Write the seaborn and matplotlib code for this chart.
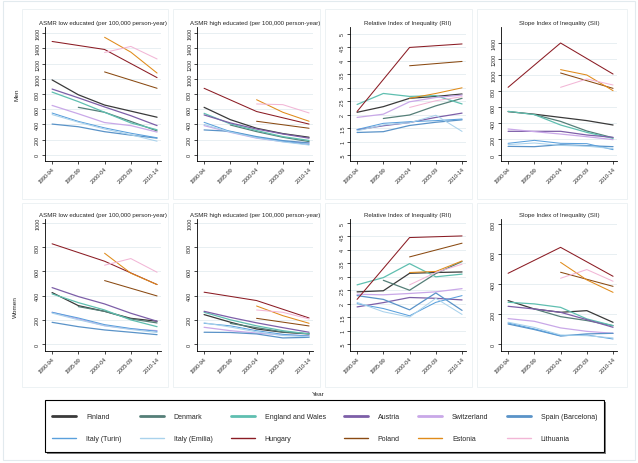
import numpy as np
import pandas as pd
import matplotlib.pyplot as plt
import seaborn as sns
from matplotlib.lines import Line2D
from matplotlib.patches import Rectangle

n = np.nan
periods = ['1990-94', '1995-99', '2000-04', '2005-09', '2010-14']
countries = ['Finland', 'Denmark', 'England and Wales', 'Austria', 'Switzerland',
             'Spain (Barcelona)', 'Italy (Turin)', 'Italy (Emilia)', 'Hungary',
             'Poland', 'Estonia', 'Lithuania']
colors = ['#3a3a3a', '#557f78', '#5fbfb0', '#7d5fa8', '#c9a8e8', '#5a93c8',
          '#5aa0dc', '#a9d2ec', '#8b1c24', '#8a4a12', '#e08b1a', '#f2b6d6']

# values per country, in the order of `countries`
men_low = [[985, 790, 655, 575, 495], [n, 625, 560, 440, 315], [825, 700, 560, 420, 330],
           [865, 750, 630, 515, 385], [650, 540, 425, 385, 300], [405, 370, 305, 260, 220],
           [550, 440, 355, 285, 225], [530, 430, 340, 265, 180], [1490, n, 1385, n, 1015],
           [n, n, 1090, n, 875], [n, n, 1545, 1350, 1075], [n, n, 1345, 1425, 1260]]
men_high = [[625, 463, 350, 280, 232], [n, 393, 306, 232, 175], [546, 407, 320, 240, 190],
            [525, 420, 340, 275, 220], [385, 297, 220, 175, 157], [328, 310, 240, 188, 157],
            [428, 306, 232, 180, 135], [400, 300, 225, 170, 130], [875, n, 570, n, 405],
            [n, n, 442, n, 350], [n, n, 725, 560, 442], [n, n, 669, 660, 551]]
men_rii = [[2.09, 2.30, 2.61, 2.68, 2.77], [n, 1.86, 1.99, 2.33, 2.61], [2.38, 2.79, 2.68, 2.71, 2.40],
           [1.44, 1.59, 1.71, 1.90, 2.06], [1.90, 2.02, 2.48, 2.64, 2.73], [1.34, 1.37, 1.60, 1.72, 1.81],
           [1.45, 1.68, 1.74, 1.78, 1.84], [1.40, 1.62, 1.70, 1.98, 1.38], [2.12, n, 4.50, n, 4.63],
           [n, n, 3.82, n, 3.98], [n, n, 2.61, 2.79, 3.00], [n, n, 2.27, 2.52, 2.67]]
men_sii = [[542, 510, 470, 430, 375], [n, 505, 420, 300, 215], [546, 505, 375, 283, 208],
           [296, 296, 296, 250, 221], [325, 292, 262, 229, 192], [108, 104, 129, 117, 104],
           [146, 183, 146, 142, 67], [130, 150, 120, 110, 80], [846, n, 1400, n, 1012],
           [n, n, 1025, n, 833], [n, n, 1067, 1000, 804], [n, n, 846, 950, 875]]
women_low = [[425, 317, 270, 212, 188], [n, 309, 270, 207, 174], [414, 342, 281, 199, 143],
             [466, 392, 331, 254, 188], [262, 207, 152, 124, 110], [179, 143, 116, 97, 77],
             [262, 215, 160, 128, 105], [255, 200, 150, 120, 95], [828, n, 684, n, 491],
             [n, n, 524, n, 397], [n, n, 750, 585, 491], [n, n, 651, 706, 593]]
women_high = [[243, 180, 124, 97, 83], [n, 170, 135, 100, 85], [262, 200, 150, 110, 83],
              [270, 220, 175, 135, 97], [138, 110, 90, 75, 69], [97, 95, 83, 50, 55],
              [171, 150, 110, 80, 65], [175, 140, 100, 70, 60], [428, n, 359, n, 215],
              [n, n, 212, n, 149], [n, n, 314, 234, 171], [n, n, 281, 262, 207]]
women_rii = [[2.44, 2.48, 3.13, 3.16, 3.18], [n, 2.87, 2.50, 3.12, 3.57], [2.70, 2.97, 3.49, 3.00, 3.10],
             [1.88, 2.04, 2.23, 2.20, 2.14], [2.35, 2.33, 2.38, 2.44, 2.56], [2.30, 2.16, 1.77, 2.40, 1.75],
             [2.00, 1.82, 1.55, 2.05, 2.30], [2.05, 1.70, 1.50, 2.20, 1.60], [2.16, n, 4.46, n, 4.52],
             [n, n, 3.74, n, 4.25], [n, n, 3.16, 3.20, 3.59], [n, n, 2.70, 3.16, 3.47]]
women_sii = [[289, 233, 211, 222, 144], [n, 233, 182, 156, 122], [278, 267, 244, 167, 122],
             [251, 233, 211, 162, 111], [169, 151, 107, 84, 71], [133, 96, 53, 67, 71],
             [140, 100, 55, 60, 33], [145, 110, 60, 55, 40], [471, n, 644, n, 451],
             [n, n, 478, n, 384], [n, n, 544, 427, 344], [n, n, 438, 496, 418]]

titles = ['ASMR low educated (per 100,000 person-year)', 'ASMR high educated (per 100,000 person-year)',
          'Relative Index of Inequality (RII)', 'Slope Index of Inequality (SII)']
rii_ticks = [0.5, 1, 1.5, 2, 2.5, 3, 3.5, 4, 4.5, 5]
rii_labels = ['.5', '1', '1.5', '2', '2.5', '3', '3.5', '4', '4.5', '5']

sns.set_theme(style='white')
plt.rcParams['font.family'] = ['Liberation Sans', 'DejaVu Sans']

W, H = 638, 464
fig = plt.figure(figsize=(6.38, 4.64), dpi=100)
fig.patch.set_facecolor('white')

def px_rect(x0, y0, x1, y1, **kw):
    fig.patches.append(Rectangle((x0 / W, 1 - y1 / H), (x1 - x0) / W, (y1 - y0) / H,
                                 transform=fig.transFigure, **kw))

# outer and panel frames
px_rect(3, 2, 635, 461, fill=False, edgecolor='#e2eaee', lw=0.8)
for (a, b) in [(22, 168), (173, 320), (325, 472), (477, 627)]:
    px_rect(a, 10, b, 200, fill=False, edgecolor='#eaf0f3', lw=0.6)
    px_rect(a, 204, b, 388, fill=False, edgecolor='#eaf0f3', lw=0.6)

def to_long(values):
    rows = []
    for c, vals in zip(countries, values):
        for i, v in enumerate(vals):
            rows.append((c, i, v))
    return pd.DataFrame(rows, columns=['country', 'x', 'value']).dropna()

rows = [
    dict(data=[men_low, men_high, men_rii, men_sii], top=28, bottom=162,
         ylims=[(-80, 1680), (-80, 1680), (0.28, 5.26), (-75, 1600)],
         yticks=[range(0, 1601, 200), range(0, 1601, 200), rii_ticks, range(0, 1401, 200)]),
    dict(data=[women_low, women_high, women_rii, women_sii], top=220, bottom=352,
         ylims=[(-58, 1033), (-58, 1033), (0.24, 5.15), (-47, 833)],
         yticks=[range(0, 1001, 200), range(0, 1001, 200), rii_ticks, range(0, 801, 200)]),
]
lefts = [45, 197, 350, 501]
aw = 116

for r in rows:
    for j in range(4):
        ax = fig.add_axes([lefts[j] / W, 1 - r['bottom'] / H, aw / W, (r['bottom'] - r['top']) / H])
        df = to_long(r['data'][j])
        for k, c in enumerate(countries):
            sub = df[df['country'] == c]
            sns.lineplot(data=sub, x='x', y='value', color=colors[k],
                         lw=0.9 if k < 6 else 0.75, ax=ax, legend=False, errorbar=None)
        ax.set_xlim(-0.27, 4.15)
        ax.set_ylim(*r['ylims'][j])
        ax.set_xticks(range(5))
        ax.set_xticklabels(periods, rotation=45, ha='right', rotation_mode='anchor')
        yt = list(r['yticks'][j])
        ax.set_yticks(yt)
        if j == 2:
            ax.set_yticklabels(rii_labels)
        else:
            ax.set_yticklabels([str(v) for v in yt])
        for lbl in ax.get_yticklabels():
            lbl.set_rotation(90)
            lbl.set_va('center')
        ax.tick_params(axis='both', labelsize=3.9, length=2, width=0.5, color='black',
                       pad=1.5, left=True, bottom=True)
        ax.set_xlabel('')
        ax.set_ylabel('')
        ax.yaxis.grid(True, color='#e4edf0', lw=0.6)
        ax.set_axisbelow(True)
        for s in ['top', 'right']:
            ax.spines[s].set_visible(False)
        for s in ['left', 'bottom']:
            ax.spines[s].set_color('black')
            ax.spines[s].set_linewidth(0.6)
        ax.set_title(titles[j], fontsize=4.4, pad=2.5)

fig.text(17 / W, 1 - 95 / H, 'Men', rotation=90, ha='center', va='center', fontsize=4.6)
fig.text(15 / W, 1 - 307 / H, 'Women', rotation=90, ha='center', va='center', fontsize=4.6)
fig.text(318 / W, 1 - 395 / H, 'Year', ha='center', va='center', fontsize=4.6)

# legend box with a thin shadow, drawn by hand
px_rect(46.5, 402.5, 605.5, 454.5, facecolor='#808080', edgecolor='none', zorder=1)
px_rect(45, 401, 604, 453, facecolor='white', edgecolor='black', lw=0.8, zorder=2)

# legend, filled column-wise so rows read like the reference
order = [0, 6, 1, 7, 2, 8, 3, 9, 4, 10, 5, 11]
handles = [Line2D([], [], color=colors[k], lw=2.0 if k < 6 else 1.0) for k in order]
labels = [countries[k] for k in order]
leg = fig.legend(handles, labels, ncol=6, loc='upper left',
                 bbox_to_anchor=(52 / W, 1 - 414 / H), fontsize=5,
                 handlelength=3.5, handletextpad=1.4, columnspacing=2.6,
                 borderpad=0, borderaxespad=0, labelspacing=2.2, frameon=False)
leg.set_zorder(5)

fig.savefig('out.png', dpi=100, facecolor='white')
